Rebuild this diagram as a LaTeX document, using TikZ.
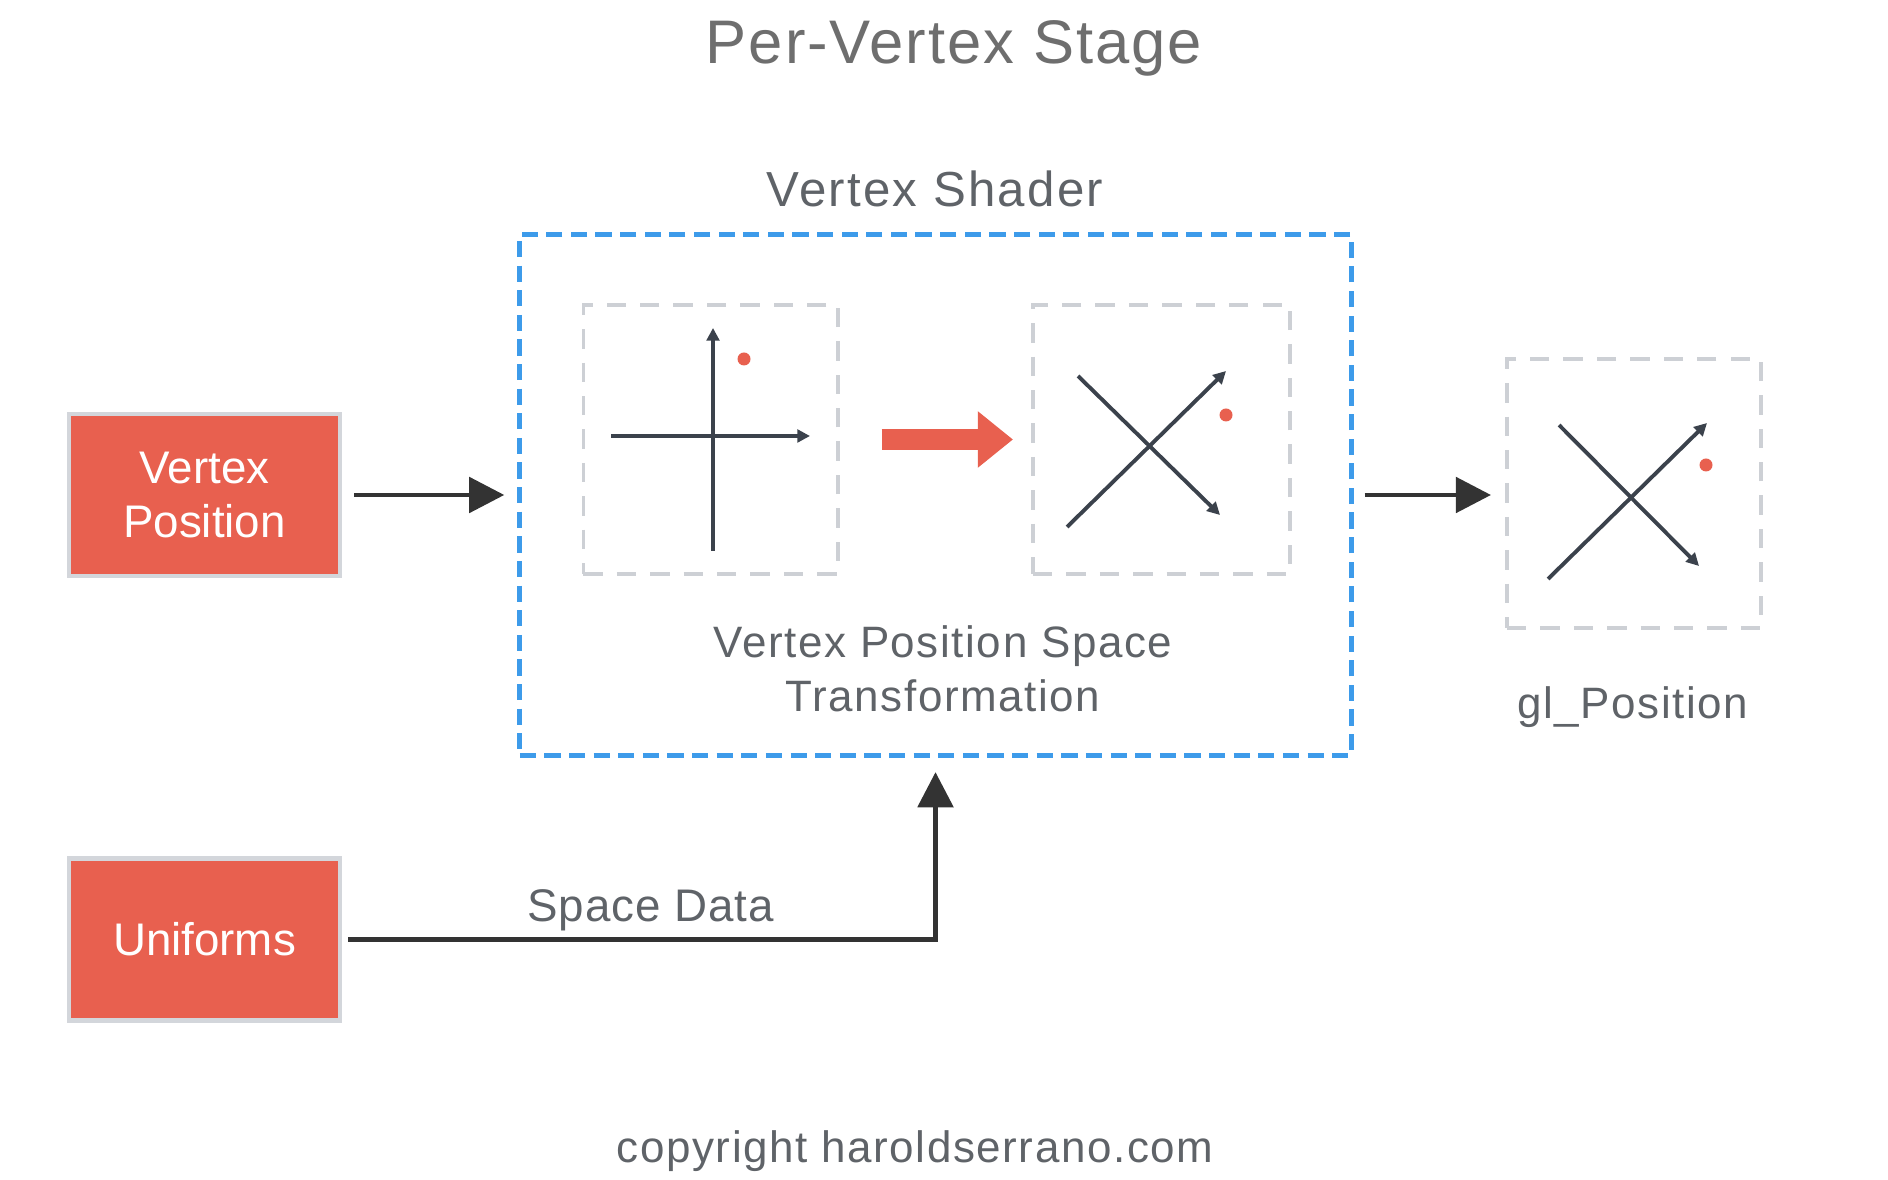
\documentclass[tikz,border=0pt]{standalone}
\usepackage{fontspec}
\setmainfont{Liberation Sans}
\newfontfamily\widefont[LetterSpace=3.6]{Liberation Sans}
\newfontfamily\headfont[LetterSpace=3.2]{Liberation Sans}
\newfontfamily\subheadfont[LetterSpace=4.5]{Liberation Sans}
\newfontfamily\flowfont[LetterSpace=2]{Liberation Sans}
\usepackage{xcolor}
\usepackage{tikz}
\usetikzlibrary{shapes,arrows.meta,positioning}

\definecolor{boxred}{HTML}{E8604F}
\definecolor{boxedge}{HTML}{D3D6DB}
\definecolor{shaderblue}{HTML}{3D9BEA}
\definecolor{ghostgray}{HTML}{CDD0D5}
\definecolor{linedark}{HTML}{333333}
\definecolor{axisgray}{HTML}{3B424C}
\definecolor{labelgray}{HTML}{5F6368}
\definecolor{titlegray}{HTML}{6E6E6E}

\begin{document}
\begin{tikzpicture}[
    x=0.01cm, y=-0.01cm,
    input/.style={rectangle, fill=boxred, draw=boxedge, line width=1.2pt, text=white, align=center, minimum width=2.71cm, minimum height=1.62cm, font=\fontsize{13}{15.5}\selectfont},
    shader/.style={rectangle, draw=shaderblue, line width=1.4pt, dash pattern=on 4.6pt off 2.4pt, minimum width=8.31cm, minimum height=5.21cm},
    frame/.style={rectangle, draw=ghostgray, line width=1.1pt, dash pattern=on 5.5pt off 4pt, minimum width=2.54cm, minimum height=2.69cm},
    caption/.style={text=labelgray, align=center, font=\widefont\fontsize{12.5}{15.4}\selectfont},
    flow/.style={-{Triangle[length=10pt,width=10pt]}, line width=1.4pt, draw=linedark},
    axis/.style={-{Triangle[length=3.6pt,width=3.6pt]}, line width=1.1pt, draw=axisgray},
    point/.style={circle, fill=boxred, inner sep=0pt, minimum size=0.13cm}
]
\useasboundingbox (0,0) rectangle (1888,1180);

% Titles
\node[text=titlegray, font=\headfont\fontsize{17.5}{20}\selectfont] (title) at (954,48) {Per-Vertex Stage};
\node[caption, font=\subheadfont\fontsize{14}{16}\selectfont] (shadername) at (935,189) {Vertex Shader};

% Inputs
\node[input] (vpos) at (204.5,495) {Vertex\\Position};
\node[input] (unif) at (204.5,939.5) {Uniforms};

% Shader and its frames
\node[shader] (vs) at (935.5,495) {};
\node[frame] (before) at (710.5,439.5) {};
\node[frame, minimum width=2.57cm] (after) at (1161.5,439.5) {};
\node[caption] (transf) at (943,669) {Vertex Position Space\\Transformation};

% Output
\node[frame] (glpos) at (1634,493.5) {};
\node[caption] (glname) at (1633,707) {gl\_Position};

% Axes before
\begin{scope}[shift={(before.center)}]
\draw[axis] (2.5,111.5) -- (2.5,-111.5);
\draw[axis] (-99.5,-3.5) -- (99.5,-3.5);
\node[point] (p1) at (33.5,-80.5) {};
\end{scope}

% Axes after
\begin{scope}[shift={(after.center)}]
\draw[axis] (-94.5,87.5) -- (64.5,-68.5);
\draw[axis] (-83.5,-63.5) -- (58.5,75.5);
\node[point] (p2) at (64.5,-24.5) {};
\end{scope}

% Axes gl_Position
\begin{scope}[shift={(glpos.center)}]
\draw[axis] (-86,85.5) -- (73,-70.5);
\draw[axis] (-75,-68.5) -- (65,72.5);
\node[point] (p3) at (72,-28.5) {};
\end{scope}

% Connectors
\draw[-{Triangle[length=10pt,width=15.4pt]}, line width=5.7pt, draw=boxred, shorten <=0.42cm, shorten >=0.18cm] (before.east) -- (after.west);
\draw[flow, shorten <=0.12cm, shorten >=0.13cm] (vpos.east) -- (vs.west);
\draw[flow, shorten <=0.11cm, shorten >=0.14cm] (vs.east) -- (vs.east -| glpos.west);
\draw[flow, shorten <=0.06cm, shorten >=0.14cm] (unif.east) -| node[caption, pos=0.26, above=-0.06cm, font=\flowfont\fontsize{13}{15.5}\selectfont] {Space Data} (vs.south);

% Footer
\node[caption] (copy) at (915,1151) {copyright haroldserrano.com};

\end{tikzpicture}
\end{document}
